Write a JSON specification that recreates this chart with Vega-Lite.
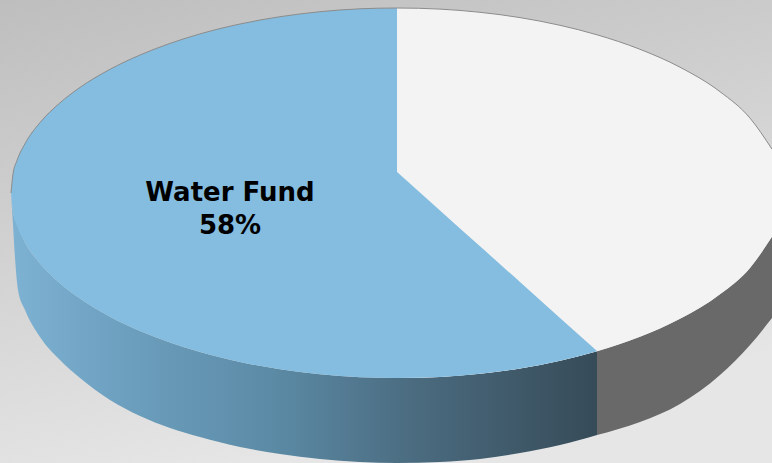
{"$schema":"https://vega.github.io/schema/vega-lite/v6.json","width":772,"height":463,"autosize":"none","padding":0,
"view":{"stroke":null,"fill":{"gradient":"linear","x1":0,"y1":0,"x2":0.35,"y2":1,"stops":[{"offset":0,"color":"#bebebe"},{"offset":0.5,"color":"#d2d2d2"},{"offset":1,"color":"#e6e6e6"}]}},
"datasets":{
"top":[
{"part":"Other","x":397,"upper":8,"lower":378},{"part":"Other","x":440,"upper":9.1,"lower":376.9},{"part":"Other","x":480,"upper":12.3,"lower":373.7},{"part":"Other","x":520,"upper":17.6,"lower":368.4},{"part":"Other","x":560,"upper":25.3,"lower":360.7},{"part":"Other","x":597,"upper":34.8,"lower":351.2},{"part":"Other","x":640,"upper":49.3,"lower":336.7},{"part":"Other","x":680,"upper":67.2,"lower":318.8},{"part":"Other","x":720,"upper":91.7,"lower":294.3},{"part":"Other","x":750,"upper":118.1,"lower":267.9},{"part":"Other","x":772,"upper":149.2,"lower":236.8},
{"part":"Water Fund","x":11,"upper":193,"lower":193},{"part":"Water Fund","x":13,"upper":174,"lower":212},{"part":"Water Fund","x":17,"upper":160.5,"lower":225.5},{"part":"Water Fund","x":25,"upper":143.6,"lower":242.4},{"part":"Water Fund","x":40,"upper":122.6,"lower":263.4},{"part":"Water Fund","x":60,"upper":102.8,"lower":283.2},{"part":"Water Fund","x":80,"upper":87.4,"lower":298.6},{"part":"Water Fund","x":110,"upper":69.3,"lower":316.7},{"part":"Water Fund","x":140,"upper":55,"lower":331},{"part":"Water Fund","x":170,"upper":43.4,"lower":342.6},{"part":"Water Fund","x":200,"upper":33.9,"lower":352.1},{"part":"Water Fund","x":240,"upper":24,"lower":362},{"part":"Water Fund","x":280,"upper":16.7,"lower":369.3},{"part":"Water Fund","x":320,"upper":11.7,"lower":374.3},{"part":"Water Fund","x":360,"upper":8.8,"lower":377.2},{"part":"Water Fund","x":397,"upper":8,"lower":378},
{"part":"Water Fund wedge","x":396,"upper":171.1,"lower":378},{"part":"Water Fund wedge","x":440,"upper":210.5,"lower":376.9},{"part":"Water Fund wedge","x":480,"upper":246.3,"lower":373.7},{"part":"Water Fund wedge","x":520,"upper":282.1,"lower":368.4},{"part":"Water Fund wedge","x":560,"upper":317.9,"lower":360.7},{"part":"Water Fund wedge","x":597,"upper":351,"lower":351.2}],
"rim":[
{"x":11,"y":193},{"x":13,"y":174},{"x":17,"y":160.5},{"x":25,"y":143.6},{"x":40,"y":122.6},{"x":60,"y":102.8},{"x":80,"y":87.4},{"x":110,"y":69.3},{"x":140,"y":55},{"x":170,"y":43.4},{"x":200,"y":33.9},{"x":240,"y":24},{"x":280,"y":16.7},{"x":320,"y":11.7},{"x":360,"y":8.8},{"x":397,"y":8},{"x":440,"y":9.1},{"x":480,"y":12.3},{"x":520,"y":17.6},{"x":560,"y":25.3},{"x":597,"y":34.8},{"x":640,"y":49.3},{"x":680,"y":67.2},{"x":720,"y":91.7},{"x":750,"y":118.1},{"x":772,"y":149.2}],
"wall":[
{"part":"Water Fund","x":11,"upper":193,"lower":193},{"part":"Water Fund","x":13,"upper":212,"lower":225},{"part":"Water Fund","x":15,"upper":219,"lower":258},{"part":"Water Fund","x":18,"upper":227,"lower":290},{"part":"Water Fund","x":25,"upper":242.4,"lower":310},{"part":"Water Fund","x":40,"upper":263.4,"lower":337},{"part":"Water Fund","x":60,"upper":283.2,"lower":360},{"part":"Water Fund","x":80,"upper":298.6,"lower":378},{"part":"Water Fund","x":110,"upper":316.7,"lower":400},{"part":"Water Fund","x":140,"upper":331,"lower":416},{"part":"Water Fund","x":170,"upper":342.6,"lower":428},{"part":"Water Fund","x":200,"upper":352.1,"lower":437},{"part":"Water Fund","x":240,"upper":362,"lower":447},{"part":"Water Fund","x":280,"upper":369.3,"lower":454},{"part":"Water Fund","x":320,"upper":374.3,"lower":459},{"part":"Water Fund","x":360,"upper":377.2,"lower":462},{"part":"Water Fund","x":397,"upper":378,"lower":463},{"part":"Water Fund","x":440,"upper":376.9,"lower":462},{"part":"Water Fund","x":480,"upper":373.7,"lower":459},{"part":"Water Fund","x":520,"upper":368.4,"lower":453},{"part":"Water Fund","x":560,"upper":360.7,"lower":445},{"part":"Water Fund","x":597,"upper":351.2,"lower":435},
{"part":"Other","x":597,"upper":351.2,"lower":435},{"part":"Other","x":640,"upper":336.7,"lower":422},{"part":"Other","x":680,"upper":318.8,"lower":404},{"part":"Other","x":720,"upper":294.3,"lower":375},{"part":"Other","x":750,"upper":267.9,"lower":345},{"part":"Other","x":772,"upper":236.8,"lower":318}],
"labels":[{"label":"Water Fund","x":230,"y":193},{"label":"58%","x":230,"y":226}]},
"encoding":{"x":{"field":"x","type":"quantitative","scale":{"domain":[0,772],"nice":false,"zero":false},"axis":null}},
"layer":[
{"data":{"name":"wall"},"transform":[{"filter":"datum.part==='Water Fund'"}],
"mark":{"type":"area","interpolate":"monotone","fill":{"gradient":"linear","x1":0,"y1":0,"x2":1,"y2":0,"stops":[{"offset":0,"color":"#7eb2d3"},{"offset":0.2,"color":"#6c9fbe"},{"offset":0.45,"color":"#5b8aa5"},{"offset":0.7,"color":"#4a6a7e"},{"offset":1,"color":"#364b58"}]}},
"encoding":{"y":{"field":"upper","type":"quantitative","scale":{"domain":[463,0],"nice":false,"zero":false},"axis":null},"y2":{"field":"lower"}}},
{"data":{"name":"wall"},"transform":[{"filter":"datum.part==='Other'"}],
"mark":{"type":"area","interpolate":"monotone","color":"#696969"},
"encoding":{"y":{"field":"upper","type":"quantitative","scale":{"domain":[463,0],"nice":false,"zero":false},"axis":null},"y2":{"field":"lower"}}},
{"data":{"name":"top"},"transform":[{"filter":"datum.part==='Other'"}],
"mark":{"type":"area","interpolate":"monotone","color":"#f3f3f3"},
"encoding":{"y":{"field":"upper","type":"quantitative","scale":{"domain":[463,0],"nice":false,"zero":false},"axis":null},"y2":{"field":"lower"}}},
{"data":{"name":"top"},"transform":[{"filter":"datum.part!=='Other'"}],
"mark":{"type":"area","interpolate":"monotone","color":"#84bde0"},
"encoding":{"y":{"field":"upper","type":"quantitative","scale":{"domain":[463,0],"nice":false,"zero":false},"axis":null},"y2":{"field":"lower"},"detail":{"field":"part"}}},
{"data":{"name":"rim"},
"mark":{"type":"line","interpolate":"monotone","color":"#8c8c8c","strokeWidth":1},
"encoding":{"y":{"field":"y","type":"quantitative","scale":{"domain":[463,0],"nice":false,"zero":false},"axis":null}}},
{"data":{"name":"labels"},
"mark":{"type":"text","font":"DejaVu Sans","fontWeight":"bold","fontSize":26,"color":"#000000","align":"center","baseline":"middle"},
"encoding":{"y":{"field":"y","type":"quantitative","scale":{"domain":[463,0],"nice":false,"zero":false},"axis":null},"text":{"field":"label"}}}
]}
